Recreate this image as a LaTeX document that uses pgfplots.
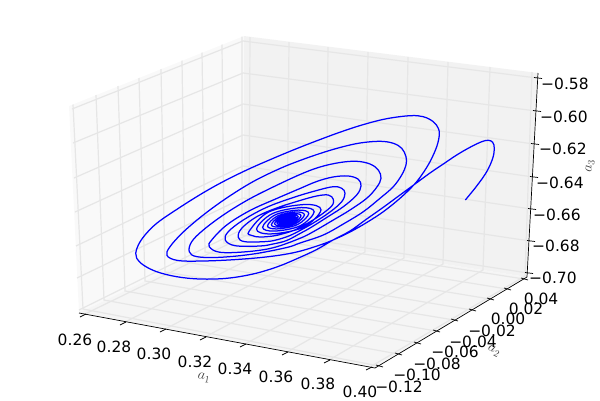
\documentclass[border=0pt]{standalone}
\usepackage{fontspec}
\setmainfont{DejaVu Sans}
\usepackage{pgfplots}
\pgfplotsset{compat=1.18}
\definecolor{paneL}{HTML}{F9F9F9}
\definecolor{paneR}{HTML}{F2F2F2}
\definecolor{paneF}{HTML}{F5F5F5}
\definecolor{gridc}{HTML}{E6E6E6}
\newcommand{\G}[1]{\addplot[gridc,line width=1.2pt,no marks] coordinates {#1};}
\newcommand{\T}[1]{\addplot[black,line width=0.7pt,no marks] coordinates {#1};}
\newcommand{\Lb}[3]{\node[inner sep=0pt,font=\fontsize{15.5}{16}\selectfont] at (axis cs:#1,#2) {#3};}
\newcommand{\Lz}[3]{\node[inner sep=0pt,anchor=west,font=\fontsize{15.5}{16}\selectfont] at (axis cs:#1,#2) {#3};}
\begin{document}
\begin{tikzpicture}
\path[use as bounding box] (0,0) rectangle (600pt,400pt);
\begin{axis}[at={(0,0)},anchor=south west,width=600pt,height=400pt,scale only axis,xmin=0,xmax=600,ymin=0,ymax=400,y dir=reverse,hide axis,clip=false]
% panes
\addplot[fill=paneL,draw=none] coordinates {(69,106) (244,36) (244,233) (79,313)} --cycle;
\addplot[fill=paneR,draw=none] coordinates {(244,36) (538,73) (527,277) (244,233)} --cycle;
\addplot[fill=paneF,draw=none] coordinates {(79,313) (244,233) (527,277) (375,368)} --cycle;
% x grid
\G{(85,314) (249,234) (250,37)}
\G{(125,322) (287,240) (289,42)}
\G{(165,329) (326,246) (328,47)}
\G{(205,337) (365,252) (368,52)}
\G{(245,344) (404,258) (408,57)}
\G{(287,352) (443,264) (448,62)}
\G{(329,360) (483,270) (490,67)}
\G{(370,367) (525,276) (532,72)}
% y grid
\G{(379,366) (83,309) (73,104.5)}
\G{(398,354) (104,300) (96,95)}
\G{(417,343) (125,291) (118,86)}
\G{(436,331) (145,281) (139,78)}
\G{(454,320) (165,272) (161,69)}
\G{(472,310) (185,262) (182,60.5)}
\G{(490,299) (205,252) (202,52.5)}
\G{(507,289) (224,243) (222,44.5)}
\G{(524,279) (242,235) (242,36.5)}
% z grid
\G{(72,109) (243,41) (537,78)}
\G{(73,143) (243,73) (536,111)}
\G{(74,178) (243,104) (534,144)}
\G{(75,212) (243,135) (533,177)}
\G{(76,246) (243,166) (531,209)}
\G{(77,278) (243,198) (530,241)}
\G{(79,310) (243,229) (528,273)}
% axis lines
\T{(79,313) (375,368)}
\T{(375,368) (527,277)}
\T{(527,277) (538,73)}
% x ticks
\T{(80,317) (86,314)}
\T{(120,325) (126,322)}
\T{(160,332) (166,329)}
\T{(200,340) (206,337)}
\T{(240,347) (246,344)}
\T{(282,355) (288,352)}
\T{(324,363) (330,360)}
\T{(366,370) (372,367)}
% y ticks
\T{(376,365) (383,367)}
\T{(395,353) (402,355)}
\T{(414,342) (421,344)}
\T{(433,330) (440,332)}
\T{(451,319) (458,321)}
\T{(469,309) (476,311)}
\T{(487,298) (494,300)}
\T{(504,288) (511,290)}
\T{(521,278) (528,280)}
% z ticks
\T{(534,77.5) (542,78.5)}
\T{(533,110.5) (541,111.5)}
\T{(531,143.5) (539,144.5)}
\T{(530,176.5) (538,177.5)}
\T{(528,208.5) (536,209.5)}
\T{(527,240.5) (535,241.5)}
\T{(525,272.5) (533,273.5)}
% trajectory, traced in picture pixels
\addplot[blue,line width=1.25pt,no marks,smooth,tension=0.6] coordinates {
(465.3,200) (476.7,186) (486.7,171.7) (492.7,158.3) (494.3,148.3) (492.7,142.3) (488.3,140.3) (481.7,141.7) (470,147.3) (456.7,155) (443.3,164) (430,173) (415,184) (400,195) (383,207.5) (366.7,219) (350,231) (333,240) (316.7,249.5)
(296.7,258.8) (276.7,267) (253,274) (226.7,278.3) (200,279) (176.7,276.7) (156.7,271.7) (143.3,265) (136.7,258.3) (135.7,253.3) (138.3,245) (145,235) (156.7,223.3) (173.3,211.7) (196.7,196.7) (220,183.3) (246.7,170) (273.3,158.3) (296.7,148.6)
(316.7,140.8) (340,132.2) (363.3,124.6) (386.7,118.7) (410,115.7) (423.3,116.7) (433.3,121.7) (438.3,128.3) (439.3,135) (436.7,146.7) (430,161.7) (421.7,175) (413.3,185.5) (400,198.3) (383.3,211.7) (366.7,222.5) (350,232) (333,240) (320,245)
(296.7,252) (270,256.5) (236.7,259.5) (203,261) (178,260.5) (167,255.5) (170,246.7) (183.3,232) (203.3,215) (226.7,198) (253.3,181.5) (280,168.5) (300,160.5) (320,153.5) (340,147.5) (360,143) (380,141.3) (393.3,143.3) (401.7,148.3) (406,156.7) (406,165) (401.7,175) (393.3,186.7) (380,198.3) (363.3,211.7) (343.3,224) (323.3,235)
(300,243) (286.7,247.5) (253.3,254) (220,257.3) (197,256.7) (189.3,251.7) (191.7,241.7) (203.3,230) (223.3,215) (246.7,200.5) (270,188.5) (300,174.5) (320,167) (340,162.5) (356.7,161.3) (370,164) (378.3,170) (381,178.3) (376.7,187.3) (366.7,198.3) (350,210) (333.3,220) (313.3,231.7) (300,238.3)
(273.3,247.7) (246.7,251.7) (220,252.3) (209.3,246.7) (211.7,240) (226.7,225) (250,210.5) (276.7,198.5) (300,188.5) (316.7,181.5) (333,177) (348.3,176) (358.3,179.3) (361,186) (356.7,195) (343.3,206.7) (326.7,217.5) (310,228) (300,233.5)
(286.7,240.5) (273,244) (260,246) (235,245.7) (225.3,240) (228.3,231.7) (243.3,220) (266.7,207.3) (293.3,197.5) (316.7,190.5) (333.3,186.7) (341.7,188.3) (345,193.3) (341.7,201.7) (330,212) (313.3,223) (300,230.5)
(290,235.5) (278,239.5) (266.7,241.5) (245,241.7) (238.3,237.3) (241.7,228.3) (256.7,216.7) (276.7,208) (300,200.5) (316.7,196) (328.3,195) (333.3,199.3) (331.7,206) (320,215.5) (308,223) (296,229.5)
(284,233.5) (273,236) (260,237) (252,235.5)
(249,231.4) (268.7,212) (304.7,204.5) (321,209.8) (303.4,227.2) (271.2,233.9)
(256.6,229.1) (272.4,213.6) (301.1,207.6) (314.2,211.8) (300.1,225.8) (274.4,231.1)
(262.6,227.3) (275.3,214.8) (298.3,210.1) (308.8,213.5) (297.5,224.6) (276.9,228.9)
(267.5,225.9) (277.6,215.9) (296,212) (304.4,214.8) (295.4,223.7) (278.9,227.1)
(271.4,224.7) (279.5,216.7) (294.3,213.6) (301,215.8) (293.8,223) (280.5,225.7)
(274.5,223.8) (281,217.4) (292.8,214.9) (298.2,216.6) (292.4,222.4) (281.8,224.6)
(277,223) (282.2,217.9) (291.7,215.9) (296,217.3) (291.3,221.9) (282.9,223.7)
(279,222.4) (283.2,218.3) (290.7,216.7) (294.1,217.9) (290.5,221.5) (283.7,222.9)
(280.6,221.9) (283.9,218.6) (290,217.4) (292.7,218.3) (289.8,221.2) (284.4,222.3)
(281.9,221.5) (284.6,218.9) (289.3,218) (291.2,218.7) (289,220.9) (285.2,221.6)
(283.7,221) (285.6,219.4) (288.2,218.8) (289.5,219.2) (288,220.5) (286,220.9)
(285,220.4) (286.5,219.7) (288,219.6) (287,220)
};
% tick labels
\Lb{75}{340}{0.26}
\Lb{114}{347}{0.28}
\Lb{154}{354}{0.30}
\Lb{195}{362}{0.32}
\Lb{235}{369}{0.34}
\Lb{276}{377}{0.36}
\Lb{318}{384}{0.38}
\Lb{360}{392}{0.40}
\Lb{399}{387}{−0.12}
\Lb{417}{375}{−0.10}
\Lb{437}{364}{−0.08}
\Lb{455}{352}{−0.06}
\Lb{473}{342}{−0.04}
\Lb{492}{331}{−0.02}
\Lb{508}{319}{0.00}
\Lb{526}{309}{0.02}
\Lb{541}{299}{0.04}
\Lz{541}{84}{−0.58}
\Lz{540}{117}{−0.60}
\Lz{539}{149}{−0.62}
\Lz{536}{183}{−0.64}
\Lz{533}{215}{−0.66}
\Lz{532}{246}{−0.68}
\Lz{529}{278}{−0.70}
% axis labels
\node[inner sep=0pt,rotate=-10,text=black!75,font=\fontsize{14}{15}\selectfont] at (axis cs:204,378) {$a_1$};
\node[inner sep=0pt,rotate=-28,text=black!75,font=\fontsize{14}{15}\selectfont] at (axis cs:494,351) {$a_2$};
\node[inner sep=0pt,rotate=85,text=black!75,font=\fontsize{14}{15}\selectfont] at (axis cs:590,166) {$a_3$};
\end{axis}
\end{tikzpicture}
\end{document}
